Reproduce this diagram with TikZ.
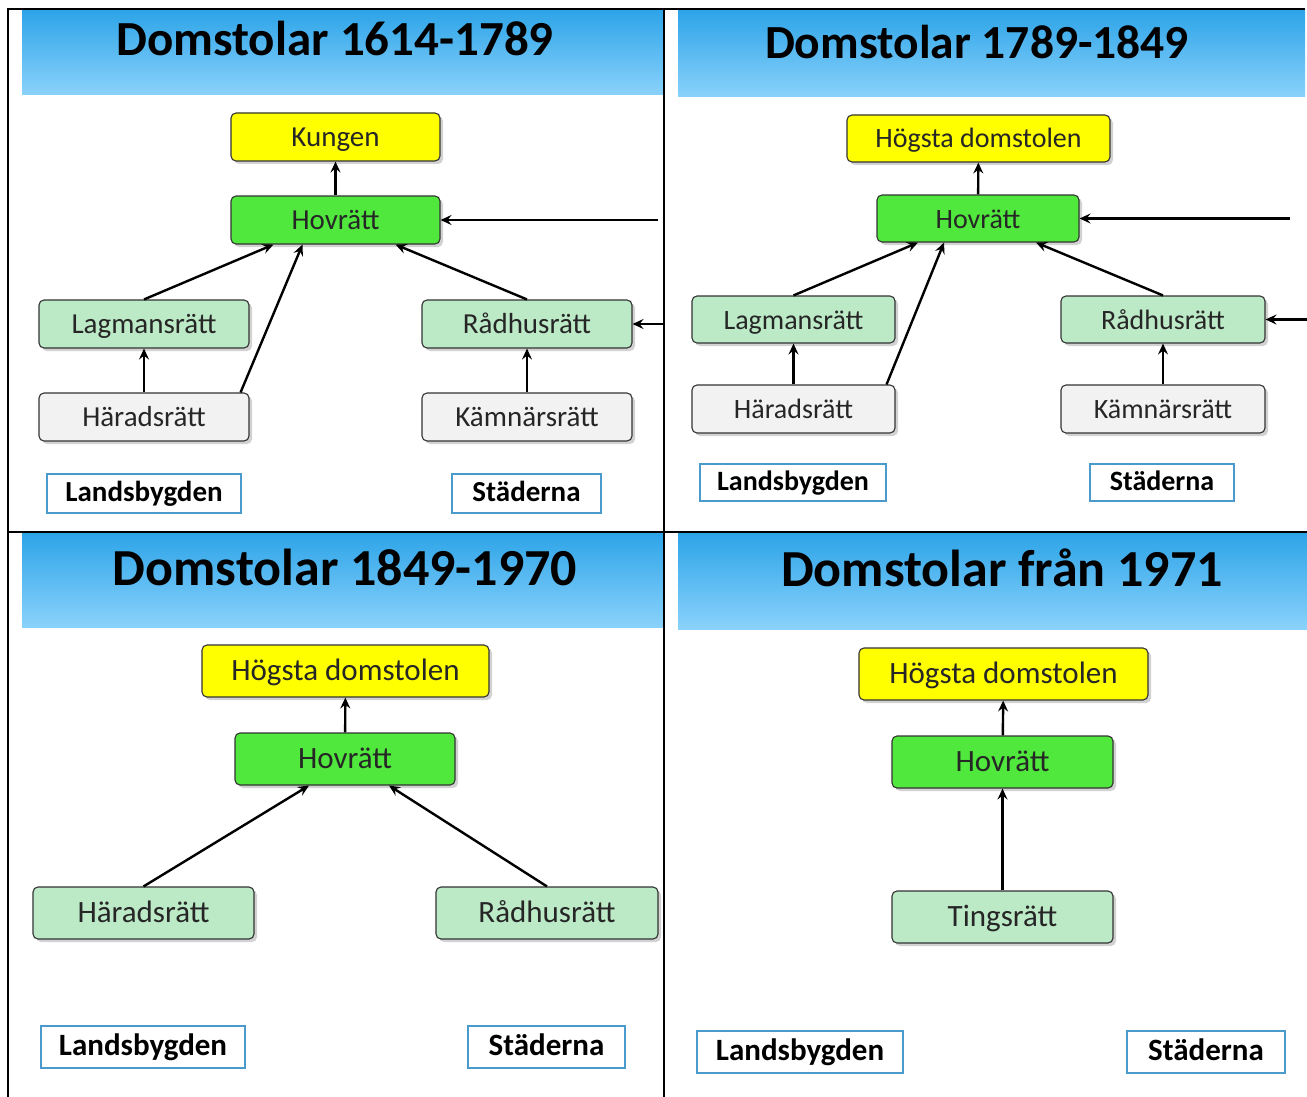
\documentclass[tikz,border=0pt]{standalone}
\usepackage{fontspec}
\setmainfont{Carlito}
\usetikzlibrary{shadows,arrows.meta,calc}
\definecolor{kingyellow}{HTML}{FFFF00}
\definecolor{appealgreen}{HTML}{50E83C}
\definecolor{lowergreen}{HTML}{BCE9C6}
\definecolor{basegray}{HTML}{F2F2F2}
\definecolor{areablue}{HTML}{4A9ACB}
\definecolor{bandtop}{HTML}{2DA4E8}
\definecolor{bandbottom}{HTML}{8AD2FB}
\begin{document}
\begin{tikzpicture}
            [x=1pt, y=-1pt, every node/.style={inner sep=0pt},
             court/.style={rectangle, rounded corners=5pt, draw=black!80, line width=1.1pt,
                           text height=22pt, text depth=3pt, text=black!85,
                           drop shadow={shadow xshift=3pt, shadow yshift=-3pt, opacity=0.35},
                           font=\fontsize{\fsz}{\fsz}\selectfont},
             supreme/.style={court, fill=kingyellow},
             appeal/.style={court, fill=appealgreen},
             lower/.style={court, fill=lowergreen},
             base/.style={court, fill=basegray},
             area/.style={rectangle, draw=areablue, line width=1.2pt, fill=white,
                          text height=20pt, text depth=4pt,
                          font=\bfseries\fontsize{\fsz}{\fsz}\selectfont},
             title/.style={font=\bfseries\fontsize{\tsz}{\tsz}\selectfont},
             link/.style={line width=2.4pt, -{Stealth[length=11pt, width=10pt, inset=4pt]}, color=black}]
                \useasboundingbox (0,0) rectangle (1307,1097);
                \fill [white] (0,0) rectangle (1307,1097);
                \shade [top color=bandtop, bottom color=bandbottom] (22,10) rectangle (664,95);
                \shade [top color=bandtop, bottom color=bandbottom] (678,10) rectangle (1305,97);
                \shade [top color=bandtop, bottom color=bandbottom] (22,533) rectangle (664,627);
                \shade [top color=bandtop, bottom color=bandbottom] (678,533) rectangle (1307,629);
                \draw [line width=2.2pt] (8,1097) -- (8,9) -- (1305,9);
                \draw [line width=2.2pt] (664,9) -- (664,1097);
                \draw [line width=2.2pt] (8,532) -- (1307,532);
                \begin{scope}
                \def\fsz{29}\def\tsz{49}
                \node (title1) [title] at (335, 38) {Domstolar 1614-1789};
                \node (kung1) [supreme, minimum width=209pt, minimum height=48pt] at (335.5, 137) {Kungen};
                \node (hov1) [appeal, minimum width=209pt, minimum height=48pt] at (335.5, 220) {Hovrätt};
                \node (lag1) [lower, minimum width=210pt, minimum height=48pt] at (144, 324) {Lagmansrätt};
                \node (rad1) [lower, minimum width=210pt, minimum height=48pt] at (527, 324) {Rådhusrätt};
                \node (har1) [base, minimum width=210pt, minimum height=48pt] at (144, 417) {Häradsrätt};
                \node (kam1) [base, minimum width=210pt, minimum height=48pt] at (527, 417) {Kämnärsrätt};
                \node (land1) [area, minimum width=194pt, minimum height=39pt] at (144, 493.5) {Landsbygden};
                \node (stad1) [area, minimum width=149pt, minimum height=39pt] at (526.5, 493.5) {Städerna};
                \coordinate (in1) at (658, 220);
                \coordinate (in2) at (664, 324);
                \draw [link] (hov1) to (kung1);
                \draw [link] (lag1.north) to ($(hov1.south)+(-62,0)$);
                \draw [link] ($(har1.north east)+(-9,0)$) to ($(hov1.south)+(-33,0)$);
                \draw [link] (rad1.north) to ($(hov1.south)+(60,0)$);
                \draw [link] (har1) to (lag1);
                \draw [link] (kam1) to (rad1);
                \draw [link] (in1) to (hov1.east);
                \draw [link] (in2) to (rad1.east);
                \end{scope}
                \begin{scope}
                \def\fsz{28}\def\tsz{47.5}
                \node (title2) [title] at (977, 42) {Domstolar 1789-1849};
                \node (hd2) [supreme, minimum width=263pt, minimum height=47pt] at (978.5, 138.5) {Högsta domstolen};
                \node (hov2) [appeal, minimum width=202pt, minimum height=47pt] at (978, 218.5) {Hovrätt};
                \node (lag2) [lower, minimum width=203pt, minimum height=47pt] at (793.5, 319.5) {Lagmansrätt};
                \node (rad2) [lower, minimum width=204pt, minimum height=47pt] at (1163, 319.5) {Rådhusrätt};
                \node (har2) [base, minimum width=203pt, minimum height=48pt] at (793.5, 409) {Häradsrätt};
                \node (kam2) [base, minimum width=204pt, minimum height=48pt] at (1163, 409) {Kämnärsrätt};
                \node (land2) [area, minimum width=186pt, minimum height=37pt] at (793, 482.5) {Landsbygden};
                \node (stad2) [area, minimum width=144pt, minimum height=37pt] at (1162, 482.5) {Städerna};
                \coordinate (in3) at (1290, 218.5);
                \coordinate (in4) at (1307, 319.5);
                \draw [link] (hov2) to (hd2);
                \draw [link] (lag2.north) to ($(hov2.south)+(-60,0)$);
                \draw [link] ($(har2.north east)+(-9,0)$) to ($(hov2.south)+(-34,0)$);
                \draw [link] (rad2.north) to ($(hov2.south)+(58,0)$);
                \draw [link] (har2) to (lag2);
                \draw [link] (kam2) to (rad2);
                \draw [link] (in3) to (hov2.east);
                \draw [link] (in4) to (rad2.east);
                \end{scope}
                \begin{scope}
                \def\fsz{31}\def\tsz{52}
                \node (title3) [title] at (345, 567) {Domstolar 1849-1970};
                \node (hd3) [supreme, minimum width=287pt, minimum height=52pt] at (345.5, 671) {Högsta domstolen};
                \node (hov3) [appeal, minimum width=220pt, minimum height=52pt] at (345, 759) {Hovrätt};
                \node (har3) [lower, minimum width=221pt, minimum height=52pt] at (143.5, 913) {Häradsrätt};
                \node (rad3) [lower, minimum width=222pt, minimum height=52pt] at (547, 913) {Rådhusrätt};
                \node (land3) [area, minimum width=204pt, minimum height=42pt] at (143, 1047) {Landsbygden};
                \node (stad3) [area, minimum width=157pt, minimum height=42pt] at (546.5, 1047) {Städerna};
                \draw [link] (hov3) to (hd3);
                \draw [link] (har3.north) to ($(hov3.south)+(-36,0)$);
                \draw [link] (rad3.north) to ($(hov3.south)+(44,0)$);
                \end{scope}
                \begin{scope}
                \def\fsz{31}\def\tsz{52}
                \node (title4) [title] at (1002, 568) {Domstolar från 1971};
                \node (hd4) [supreme, minimum width=289pt, minimum height=52pt] at (1003.5, 674) {Högsta domstolen};
                \node (hov4) [appeal, minimum width=221pt, minimum height=52pt] at (1002.5, 762) {Hovrätt};
                \node (ting4) [lower, minimum width=221pt, minimum height=52pt] at (1002.5, 917) {Tingsrätt};
                \node (land4) [area, minimum width=206pt, minimum height=42pt] at (800, 1052) {Landsbygden};
                \node (stad4) [area, minimum width=158pt, minimum height=42pt] at (1206, 1052) {Städerna};
                \draw [link] (hov4) to (hd4);
                \draw [link] (ting4) to (hov4);
                \end{scope}
            \end{tikzpicture}
\end{document}
